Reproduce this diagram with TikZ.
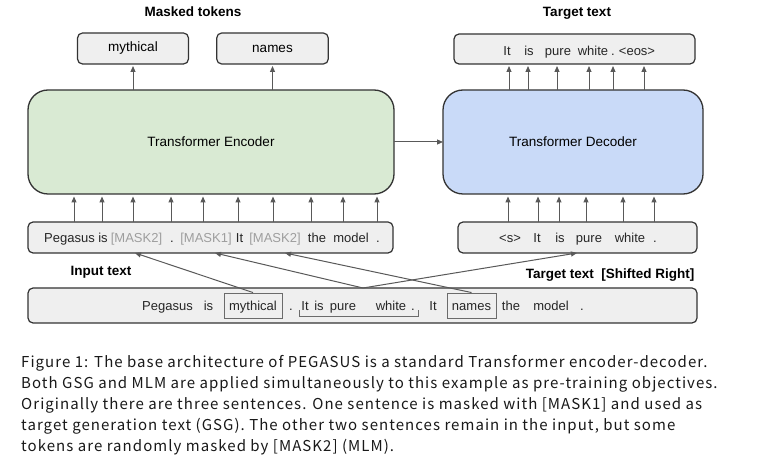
\documentclass[tikz,border=0pt]{standalone}
\usepackage{fontspec}
\setmainfont{Liberation Sans}
\newfontfamily\capfont[LetterSpace=7]{Noto Sans CJK JP}
\usetikzlibrary{arrows.meta}
\definecolor{encg}{HTML}{D9EAD3}
\definecolor{decb}{HTML}{C9DAF8}
\definecolor{boxg}{HTML}{EFEFEF}
\definecolor{edgec}{HTML}{333333}
\definecolor{arrc}{HTML}{595959}
\definecolor{maskc}{HTML}{9E9E9E}
\definecolor{framec}{HTML}{6B6B6B}
\tikzset{
  bigbox/.style={draw=edgec, line width=1.3pt, rounded corners=20pt, inner sep=0pt, outer sep=0pt, font=\fontsize{13.5}{16}\selectfont},
  tokbox/.style={draw=edgec, fill=boxg, line width=1.2pt, rounded corners=5pt, inner sep=0pt, outer sep=0pt, font=\fontsize{13.5}{16}\selectfont},
  tok/.style={inner sep=0pt, anchor=base, font=\fontsize{13}{16}\selectfont, text=black!85},
  frm/.style={tok, draw=framec, line width=0.9pt, text height=14pt, text depth=3pt, minimum height=25pt},
  lbl/.style={inner sep=0pt, anchor=base, font=\fontsize{13.5}{16}\selectfont\bfseries},
  arr/.style={draw=arrc, line width=1pt, -{Triangle[length=6pt,width=5pt]}},
  capt/.style={inner sep=0pt, anchor=base west, font=\capfont\fontsize{15}{18}\selectfont, text=black!90},
}
\begin{document}
\begin{tikzpicture}[x=1pt,y=-1pt]
\useasboundingbox[fill=white] (0,0) rectangle (761,462);

% labels
\node[lbl] (lmask) at (193,17) {Masked tokens};
\node[lbl] (ltgt) at (577,17) {Target text};
\node[lbl] (linp) at (101,276) {Input text};
\node[lbl] (lshift) at (610,279) {Target text~~[Shifted Right]};

% big boxes
\node[bigbox, fill=encg, minimum width=366pt, minimum height=104pt] (enc) at (211,142) {Transformer Encoder};
\node[bigbox, fill=decb, minimum width=260pt, minimum height=104pt] (dec) at (573,142) {Transformer Decoder};

% output boxes
\node[tokbox, minimum width=111pt, minimum height=31pt] (omyth) at (133,48.5) {mythical};
\node[tokbox, minimum width=111.6pt, minimum height=31pt] (onames) at (272.5,48.5) {names};
\node[tokbox, minimum width=241pt, minimum height=30pt] (otgt) at (574.5,49) {};
\foreach \x/\t [count=\i] in {507/It, 529/is, 558/pure, 593/white, 613/., 637/{<eos>}}
  \node[tok] (ot\i) at (\x,56) {\t};

% input boxes
\node[tokbox, minimum width=365pt, minimum height=31pt] (inbox) at (210.5,237.5) {};
\foreach \x/\t [count=\i] in {69.5/Pegasus, 103/is, 136.5/{\color{maskc}[MASK2]}, 172/., 206/{\color{maskc}[MASK1]}, 239.5/It, 275/{\color{maskc}[MASK2]}, 317/the, 351/model, 378/.}
  \node[tok] (it\i) at (\x,243) {\t};

\node[tokbox, minimum width=239pt, minimum height=31pt] (decin) at (577.5,237.5) {};
\foreach \x/\t [count=\i] in {510/{<s>}, 537/It, 560/is, 589/pure, 630/white, 655/.}
  \node[tok] (dt\i) at (\x,243) {\t};

% bottom source box
\node[tokbox, minimum width=669pt, minimum height=35pt] (bot) at (362.5,305.5) {};
\foreach \x/\t [count=\i] in {167.5/Pegasus, 208.5/is, 291/., 305/It, 319/is, 343/pure, 391/white, 413/., 433/It, 511/the, 551/model, 582/.}
  \node[tok] (bt\i) at (\x,311) {\t};
\node[frm, minimum width=58pt] (mym) at (253,311) {mythical};
\node[frm, minimum width=49pt] (nmm) at (471.5,311) {names};
\draw[framec, line width=0.9pt] (299,310) -- (299,316) -- (418,316) -- (418,310);

% arrows: encoder outputs
\draw[arr, shorten >=2pt] (omyth.south |- enc.north) -- (omyth.south);
\draw[arr, shorten >=2pt] (onames.south |- enc.north) -- (onames.south);
% decoder outputs
\foreach \x in {509,528,557,589,613,644}
  \draw[arr, shorten >=2pt] (\x,0 |- dec.north) -- (\x,0 |- otgt.south);
% encoder inputs
\foreach \x in {74,102,133,171,203,238,273,311,343,377}
  \draw[arr, shorten >=2.5pt] (\x,0 |- inbox.north) -- (\x,0 |- enc.south);
% decoder inputs
\foreach \x in {508,538,559,586,623,654}
  \draw[arr, shorten >=2.5pt] (\x,0 |- decin.north) -- (\x,0 |- dec.south);
% encoder to decoder
\draw[arr] (enc.east) -- (dec.west);

% cross arrows
\draw[arr] (mym.north) -- (135,0 |- inbox.south);
\draw[arr] (363,0 |- bot.north) -- (215,0 |- inbox.south);
\draw[arr] (nmm.north) -- (285,0 |- inbox.south);
\draw[arr] (363,0 |- bot.north) -- (577,0 |- decin.south);

% caption
\node[capt] (c1) at (21,367.4) {Figure 1: The base architecture of PEGASUS is a standard Transformer encoder-decoder.};
\node[capt] (c2) at (21,388.5) {Both GSG and MLM are applied simultaneously to this example as pre-training objectives.};
\node[capt] (c3) at (21,409.6) {Originally there are three sentences. One sentence is masked with [MASK1] and used as};
\node[capt] (c4) at (21,430.7) {target generation text (GSG). The other two sentences remain in the input, but some};
\node[capt] (c5) at (21,451.8) {tokens are randomly masked by [MASK2] (MLM).};
\end{tikzpicture}
\end{document}
